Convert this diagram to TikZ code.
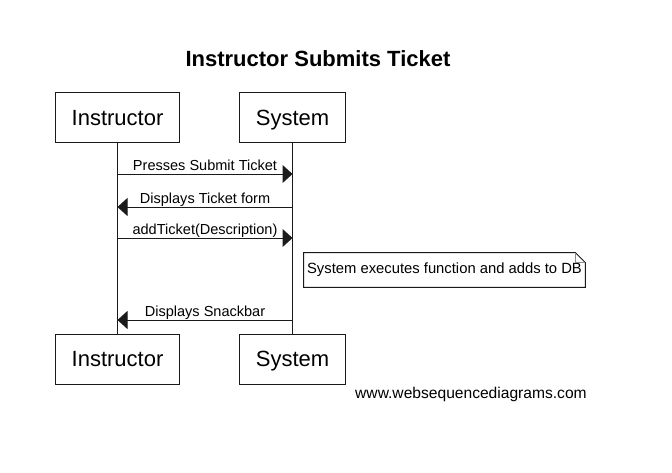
\documentclass[tikz,border=0pt]{standalone}
\usepackage{fontspec}
\setmainfont{Liberation Sans}
\usetikzlibrary{arrows.meta}
\usetikzlibrary{calc}
\definecolor{ln}{HTML}{1A1A1A}
\definecolor{fold}{HTML}{8C8C8C}

\begin{document}
\begin{tikzpicture}[x=0.75pt,y=-0.75pt,
	actor/.style={draw=ln,line width=0.75pt,inner xsep=12pt,inner ysep=0pt,minimum height=37.5pt,text height=11.9pt,text depth=0pt,font=\fontsize{16.5}{18}\selectfont},
	life/.style={draw=ln,line width=0.75pt},
	msg/.style={draw=ln,line width=0.75pt,-{Triangle[length=7.5pt,width=13.5pt]}},
	lbl/.style={inner sep=0pt,text depth=0pt,font=\fontsize{10.9}{12}\selectfont}]
	\useasboundingbox (0,0) rectangle (672,472);
	\node[font=\bfseries\fontsize{16.5}{18}\selectfont] (title) at (318,59) {Instructor Submits Ticket};
	\node[actor] (instTop) at (117.5,117.5) {Instructor};
	\node[actor] (sysTop) at (292.5,117.5) {System};
	\node[actor] (instBot) at (117.5,359) {Instructor};
	\node[actor] (sysBot) at (292.5,359) {System};
	\draw[life] (instTop) -- (instBot);
	\draw[life] (sysTop) -- (sysBot);
	%messages
	\foreach \yy/\from/\to/\txt [count=\k] in {174/inst/sys/Presses Submit Ticket, 207/sys/inst/Displays Ticket form, 238/inst/sys/addTicket(Description), 320/sys/inst/Displays Snackbar}
	{
	\coordinate (inst\k) at (117.5,\yy);
	\coordinate (sys\k) at (292.5,\yy);
	\draw[msg] (\from\k) -- node[above=2.5pt,lbl] {\txt} (\to\k);
	}
	%note
	\node[inner xsep=2.5pt,minimum width=210.75pt,minimum height=25.5pt,font=\fontsize{11.1}{12}\selectfont] (note) at (444.5,270) {System executes function and adds to DB};
	\draw[ln,line width=0.75pt] (note.north west) -- ($(note.north east)+(-10,0)$) -- ($(note.north east)+(0,10)$) -- (note.south east) -- (note.south west) -- cycle;
	\draw[fold,line width=0.75pt] ($(note.north east)+(-10,0)$) |- ($(note.north east)+(0,10)$);
	\node[anchor=base east,inner sep=0pt,font=\fontsize{11.7}{13}\selectfont] (wsd) at (587,398) {www.websequencediagrams.com};
\end{tikzpicture}
\end{document}
